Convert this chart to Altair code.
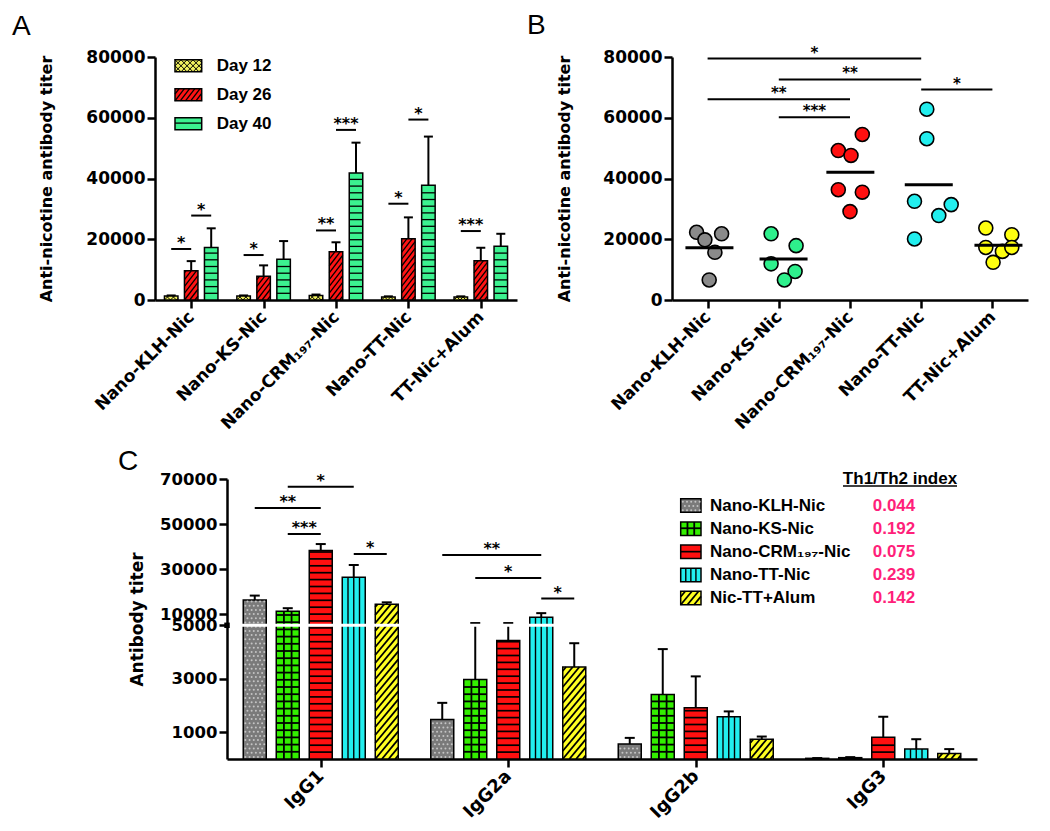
import json
import math
import altair as alt
import pandas as pd

# ------------------------------------------------------------------ data
groups = ["Nano-KLH-Nic", "Nano-KS-Nic", "Nano-CRM₁₉₇-Nic", "Nano-TT-Nic", "TT-Nic+Alum"]
days = ["Day 12", "Day 26", "Day 40"]

day12 = [1300, 1300, 1500, 1000, 1000]
day12_sem = [200, 200, 300, 200, 200]
day26 = [9600, 7800, 15900, 20200, 12900]
day26_sem = [3200, 3600, 3100, 7000, 4300]
day40 = [17300, 13400, 41800, 37800, 17700]
day40_sem = [6300, 6000, 10000, 16000, 4100]

a_sig_group = [0, 0, 1, 2, 2, 3, 3, 4]
a_sig_from = [0, 1, 0, 0, 1, 0, 1, 0]
a_sig_to = [1, 2, 1, 1, 2, 1, 2, 1]
a_sig_y = [16800, 27800, 14800, 22900, 56000, 31700, 59400, 22700]
a_sig_label = ["*", "*", "*", "**", "***", "*", "*", "***"]

b_klh = [22300, 19800, 21800, 15700, 6600]
b_ks = [21800, 17900, 11900, 9400, 6600]
b_crm = [49200, 47600, 54500, 36300, 35500, 29100]
b_tt = [62800, 53100, 32500, 31400, 27800, 20100]
b_alum = [23700, 21500, 17300, 16000, 17300, 12400]
# horizontal scatter of the dots (pixels from the group centre)
b_klh_jit = [-11, -2.7, 14, 7.3, 1.6]
b_ks_jit = [-7.7, 17.3, -7.7, 16.3, 5.6]
b_crm_jit = [-11.7, 1, 12.3, -11.7, 12.3, 0]
b_tt_jit = [5.6, 5.6, -6.7, 30, 17.6, -6.7]
b_alum_jit = [-6.6, 19.4, -6.6, 10, 19.4, 0.7]

b_sig_from = [0, 1, 3, 0, 1]
b_sig_to = [3, 3, 4, 2, 2]
b_sig_y = [79500, 72600, 69300, 66100, 60200]
b_sig_label = ["*", "**", "*", "**", "***"]

isotypes = ["IgG1", "IgG2a", "IgG2b", "IgG3"]
c_groups = ["Nano-KLH-Nic", "Nano-KS-Nic", "Nano-CRM₁₉₇-Nic", "Nano-TT-Nic", "Nic-TT+Alum"]
c_klh = [16200, 1480, 560, 25]
c_klh_sem = [2000, 620, 230, 10]
c_ks = [11200, 2970, 2410, 50]
c_ks_sem = [1400, 3030, 1700, 20]
c_crm = [38200, 4430, 1920, 810]
c_crm_sem = [2900, 1570, 1170, 770]
c_tt = [26300, 8600, 1580, 370]
c_tt_sem = [5500, 1800, 200, 370]
c_alum = [14300, 3440, 740, 210]
c_alum_sem = [900, 890, 100, 160]
th_index = ["0.044", "0.192", "0.075", "0.239", "0.142"]

c_sig_iso = [0, 0, 0, 0, 1, 1, 1]
c_sig_from = [0, 1, 1, 3, 0, 1, 3]
c_sig_to = [2, 3, 2, 4, 3, 3, 4]
c_sig_y = [57100, 66600, 45600, 36700, 36200, 26000, 16900]
c_sig_label = ["**", "*", "***", "*", "**", "*", "*"]

# ------------------------------------------------------------------ style
A_COLORS = ["#f0f060", "#ff1414", "#3cf290"]
A_PATTERNS = ["cross", "diagA", "hA"]
B_COLORS = ["#8a8a8a", "#2ef08c", "#ff1010", "#22eeee", "#ffff10"]
C_COLORS = ["#7a7a7a", "#33ee00", "#ff1010", "#22eeee", "#ffff22"]
C_PATTERNS = ["dots", "grid", "hC", "vC", "diagC"]
PINK = "#ff1f7a"
AXF = "DejaVu Sans"
LGF = "Liberation Sans"

WA, HA = 362, 243
WB, HB = 356, 243
WC, HC = 750, 280
C_BREAK = 133.7           # pixel height of the 0-5000 segment in C
BW_A, STEP_A, CAP_A = 13.5, 20.0, 9.0
BW_C, STEP_C, CAP_C = 23.0, 33.0, 10.0
PAT_W = {"cross": 1.0, "diagA": 1.3, "hA": 1.3, "grid": 1.8, "hC": 1.7,
         "vC": 1.4, "diagC": 1.8}


def a_xu(px):
    return px * 5.0 / WA


def a_yv(px):
    return px * 80000.0 / HA


def b_xu(px):
    return px * 5.0 / WB


def c_xu(px):
    return px * 4.0 / WC


def c_ypx(v):
    if v <= 5000:
        return v * C_BREAK / 5000.0
    return C_BREAK + (v - 5000.0) * (HC - C_BREAK) / 65000.0


def c_yv(px):
    if px <= C_BREAK:
        return px * 5000.0 / C_BREAK
    return 5000.0 + (px - C_BREAK) * 65000.0 / (HC - C_BREAK)


# ---------------------------------------------------------- pattern helpers
def seg_h(w, h, sp):
    out, y = [], sp
    while y < h - 1.0:
        out.append((0.0, y, w, y))
        y += sp
    return out


def seg_v(w, h, n):
    return [(w * k / (n + 1), 0.0, w * k / (n + 1), h) for k in range(1, n + 1)]


def seg_diag(w, h, sp, m):
    out = []
    kmin = math.floor(-abs(m) * w / sp) - 1
    kmax = math.ceil((h + abs(m) * w) / sp) + 1
    for k in range(kmin, kmax + 1):
        c = k * sp
        if m > 0:
            lo, hi = max(0.0, -c / m), min(w, (h - c) / m)
        else:
            lo, hi = max(0.0, (h - c) / m), min(w, -c / m)
        if hi - lo > 0.4:
            out.append((lo, m * lo + c, hi, m * hi + c))
    return out


def make_pattern(kind, w, h):
    segs, dots = [], []
    if kind == "cross":
        segs = seg_diag(w, h, 6.0, 1.0) + seg_diag(w, h, 6.0, -1.0)
    elif kind == "diagA":
        segs = seg_diag(w, h, 6.8, 1.3)
    elif kind == "hA":
        segs = seg_h(w, h, 6.7)
    elif kind == "grid":
        segs = seg_h(w, h, 7.2) + seg_v(w, h, 2)
    elif kind == "hC":
        segs = seg_h(w, h, 6.9)
    elif kind == "vC":
        segs = seg_v(w, h, 3)
    elif kind == "diagC":
        segs = seg_diag(w, h, 8.0, 1.2)
    elif kind == "dots":
        sp, j, y = 4.2, 0, 2.1
        while y < h - 1.0:
            x = 2.1 if j % 2 == 0 else 4.2
            while x < w - 1.0:
                dots.append((x, y))
                x += sp
            y += sp
            j += 1
    return segs, dots


# ------------------------------------------------------------------ panel A
a_vals = [day12, day26, day40]
a_sems = [day12_sem, day26_sem, day40_sem]
a_rows, a_pat = [], []
for s, day in enumerate(days):
    for g in range(len(groups)):
        v, e = a_vals[s][g], a_sems[s][g]
        cpx = (g + 0.5) * WA / 5 + (s - 1) * STEP_A
        a_rows.append(dict(day=day, col=A_COLORS[s], x0=a_xu(cpx - BW_A / 2),
                           x1=a_xu(cpx + BW_A / 2), xc=a_xu(cpx), c0=a_xu(cpx - CAP_A / 2),
                           c1=a_xu(cpx + CAP_A / 2), b=0, v=v, top=v + e))
        segs, _ = make_pattern(A_PATTERNS[s], BW_A, v * HA / 80000.0)
        xl = cpx - BW_A / 2
        for (x1, y1, x2, y2) in segs:
            a_pat.append(dict(xa=a_xu(xl + x1), ya=a_yv(y1), xb=a_xu(xl + x2), yb=a_yv(y2),
                              sw=PAT_W[A_PATTERNS[s]]))
a_df = pd.DataFrame(a_rows)
a_pat_df = pd.DataFrame(a_pat)

a_sig = []
for g, f, t, y, lab in zip(a_sig_group, a_sig_from, a_sig_to, a_sig_y, a_sig_label):
    p1 = (g + 0.5) * WA / 5 + (f - 1) * STEP_A
    p2 = (g + 0.5) * WA / 5 + (t - 1) * STEP_A
    a_sig.append(dict(x1=a_xu(p1), x2=a_xu(p2), xm=a_xu((p1 + p2) / 2), y=y, label=lab))
a_sig_df = pd.DataFrame(a_sig)

# legend of A (pixel space)
A_LEG_X, A_LEG_W, A_LEG_H, A_LEG_Y0, A_LEG_DY = 20.0, 26.7, 12.0, 8.8, 29.0
a_leg, a_leg_pat = [], []
for i, day in enumerate(days):
    yc = A_LEG_Y0 + i * A_LEG_DY
    a_leg.append(dict(day=day, col=A_COLORS[i], x0=A_LEG_X, x1=A_LEG_X + A_LEG_W,
                      y0=yc - A_LEG_H / 2, y1=yc + A_LEG_H / 2, tx=A_LEG_X + A_LEG_W + 15,
                      ty=yc))
    segs, _ = make_pattern(A_PATTERNS[i], A_LEG_W, A_LEG_H)
    for (x1, y1, x2, y2) in segs:
        a_leg_pat.append(dict(xa=A_LEG_X + x1, ya=yc + A_LEG_H / 2 - y1,
                              xb=A_LEG_X + x2, yb=yc + A_LEG_H / 2 - y2, sw=PAT_W[A_PATTERNS[i]]))
a_leg_df = pd.DataFrame(a_leg)
a_leg_pat_df = pd.DataFrame(a_leg_pat)


def group_axis(names, size):
    return alt.Axis(values=[k + 0.5 for k in range(len(names))],
                    labelExpr=json.dumps(names) + "[floor(datum.value)]",
                    labelAngle=-45, labelAlign="right", labelBaseline="middle",
                    labelOverlap=False, labelFont=AXF, labelFontSize=size,
                    labelFontWeight="bold", labelPadding=6, title=None, tickSize=8, grid=False)


def titer_axis(title, pad):
    return alt.Axis(values=[0, 20000, 40000, 60000, 80000], format="d", title=title,
                    titleFont=AXF, titleFontSize=16, titleFontWeight="bold", titlePadding=pad,
                    labelFont=AXF, labelFontSize=17, labelFontWeight="bold", tickSize=8,
                    labelPadding=2, grid=False)


xA = alt.Scale(domain=[0, 5], nice=False, zero=False)
yA = alt.Scale(domain=[0, 80000], nice=False)

a_bars = alt.Chart(a_df).mark_rect(stroke="black", strokeWidth=1.5).encode(
    x=alt.X("x0:Q", scale=xA, axis=group_axis(groups, 17)), x2="x1:Q",
    y=alt.Y("b:Q", scale=yA, axis=titer_axis("Anti-nicotine antibody titer", 31)), y2="v:Q",
    fill=alt.Fill("col:N", scale=None))
a_patt = alt.Chart(a_pat_df).mark_rule(color="black").encode(
    x="xa:Q", x2="xb:Q", y="ya:Q", y2="yb:Q", strokeWidth=alt.StrokeWidth("sw:Q", scale=None))
a_err = alt.Chart(a_df).mark_rule(color="black", strokeWidth=2).encode(
    x="xc:Q", y="v:Q", y2="top:Q")
a_cap = alt.Chart(a_df).mark_rule(color="black", strokeWidth=2).encode(
    x="c0:Q", x2="c1:Q", y="top:Q")
a_sl = alt.Chart(a_sig_df).mark_rule(color="black", strokeWidth=2).encode(
    x="x1:Q", x2="x2:Q", y="y:Q")
a_st = alt.Chart(a_sig_df).mark_text(font=AXF, fontSize=16, fontWeight="bold",
                                     baseline="alphabetic", dy=-1).encode(
    x="xm:Q", y="y:Q", text="label:N")
a_lr = alt.Chart(a_leg_df).mark_rect(stroke="black", strokeWidth=1.5).encode(
    x=alt.X("x0:Q", scale=None, axis=None), x2="x1:Q",
    y=alt.Y("y0:Q", scale=None, axis=None), y2="y1:Q",
    fill=alt.Fill("col:N", scale=None))
a_lp = alt.Chart(a_leg_pat_df).mark_rule(color="black").encode(
    x=alt.X("xa:Q", scale=None, axis=None), x2="xb:Q",
    y=alt.Y("ya:Q", scale=None, axis=None), y2="yb:Q",
    strokeWidth=alt.StrokeWidth("sw:Q", scale=None))
a_lt = alt.Chart(a_leg_df).mark_text(font=LGF, fontSize=17, fontWeight="bold", align="left",
                                     baseline="middle").encode(
    x=alt.X("tx:Q", scale=None, axis=None), y=alt.Y("ty:Q", scale=None, axis=None),
    text="day:N")
a_letter = alt.Chart(pd.DataFrame({"t": ["A"]})).mark_text(
    font=LGF, fontSize=28, align="left", baseline="alphabetic").encode(
    text="t:N", x=alt.value(-143), y=alt.value(-21.7))

panelA = alt.layer(a_err, a_cap, a_bars, a_patt, a_sl, a_st, a_lr, a_lp, a_lt, a_letter
                   ).properties(width=WA, height=HA)

# ------------------------------------------------------------------ panel B
b_vals = [b_klh, b_ks, b_crm, b_tt, b_alum]
b_jits = [b_klh_jit, b_ks_jit, b_crm_jit, b_tt_jit, b_alum_jit]
b_pts, b_mean = [], []
for g, (vals, jits) in enumerate(zip(b_vals, b_jits)):
    for v, j in zip(vals, jits):
        b_pts.append(dict(group=groups[g], col=B_COLORS[g], x=g + 0.5 + b_xu(j), v=v))
    mv = sum(vals) / len(vals)
    mj = sum(jits) / len(jits)
    b_mean.append(dict(x1=g + 0.5 + b_xu(mj - 24), x2=g + 0.5 + b_xu(mj + 24), v=mv))
b_pts_df = pd.DataFrame(b_pts)
b_mean_df = pd.DataFrame(b_mean)
b_sig_df = pd.DataFrame([dict(x1=f + 0.5, x2=t + 0.5, xm=(f + t) / 2 + 0.5, y=y, label=l)
                         for f, t, y, l in zip(b_sig_from, b_sig_to, b_sig_y, b_sig_label)])

xB = alt.Scale(domain=[0, 5], nice=False, zero=False)
yB = alt.Scale(domain=[0, 80000], nice=False)

b_points = alt.Chart(b_pts_df).mark_circle(size=195, stroke="black", strokeWidth=1.6,
                                           opacity=1).encode(
    x=alt.X("x:Q", scale=xB, axis=group_axis(groups, 17)),
    y=alt.Y("v:Q", scale=yB, axis=titer_axis("Anti-nicotine antibody titer", 30)),
    fill=alt.Fill("col:N", scale=None))
b_m = alt.Chart(b_mean_df).mark_rule(color="black", strokeWidth=3).encode(
    x="x1:Q", x2="x2:Q", y="v:Q")
b_sl = alt.Chart(b_sig_df).mark_rule(color="black", strokeWidth=2).encode(
    x="x1:Q", x2="x2:Q", y="y:Q")
b_st = alt.Chart(b_sig_df).mark_text(font=AXF, fontSize=15, fontWeight="bold",
                                     baseline="alphabetic", dy=-1).encode(
    x="xm:Q", y="y:Q", text="label:N")
b_letter = alt.Chart(pd.DataFrame({"t": ["B"]})).mark_text(
    font=LGF, fontSize=28, align="left", baseline="alphabetic").encode(
    text="t:N", x=alt.value(-145), y=alt.value(-23.4))
panelB = alt.layer(b_points, b_m, b_sl, b_st, b_letter).properties(width=WB, height=HB)

# ------------------------------------------------------------------ panel C
c_vals = [c_klh, c_ks, c_crm, c_tt, c_alum]
c_sems = [c_klh_sem, c_ks_sem, c_crm_sem, c_tt_sem, c_alum_sem]
c_rows, c_pat, c_dots = [], [], []
for s in range(5):
    for g in range(4):
        v, e = c_vals[s][g], c_sems[s][g]
        cpx = (g + 0.5) * WC / 4 + (s - 2) * STEP_C
        c_rows.append(dict(grp=c_groups[s], col=C_COLORS[s], x0=c_xu(cpx - BW_C / 2),
                           x1=c_xu(cpx + BW_C / 2), xc=c_xu(cpx), c0=c_xu(cpx - CAP_C / 2),
                           c1=c_xu(cpx + CAP_C / 2), b=0, v=v, top=v + e))
        segs, dots = make_pattern(C_PATTERNS[s], BW_C, c_ypx(v))
        xl = cpx - BW_C / 2
        for (x1, y1, x2, y2) in segs:
            c_pat.append(dict(xa=c_xu(xl + x1), ya=c_yv(y1), xb=c_xu(xl + x2), yb=c_yv(y2),
                              sw=PAT_W[C_PATTERNS[s]]))
        for (dx, dy) in dots:
            c_dots.append(dict(x=c_xu(xl + dx), y=c_yv(dy)))
c_df = pd.DataFrame(c_rows)
c_pat_df = pd.DataFrame(c_pat)
c_dots_df = pd.DataFrame(c_dots)

c_sig = []
for g, f, t, y, lab in zip(c_sig_iso, c_sig_from, c_sig_to, c_sig_y, c_sig_label):
    p1 = (g + 0.5) * WC / 4 + (f - 2) * STEP_C
    p2 = (g + 0.5) * WC / 4 + (t - 2) * STEP_C
    c_sig.append(dict(x1=c_xu(p1), x2=c_xu(p2), xm=c_xu((p1 + p2) / 2), y=y, label=lab))
c_sig_df = pd.DataFrame(c_sig)
c_break_df = pd.DataFrame({"x1": [c_xu(2.5)], "x2": [4.0], "y": [5000], "x0": [0.0]})

# legend of C (pixel space)
C_LEG_X, C_LEG_W, C_LEG_H, C_LEG_Y0, C_LEG_DY = 453.7, 20.3, 13.5, 26.6, 23.1
c_leg, c_leg_pat, c_leg_dots = [], [], []
for i, name in enumerate(c_groups):
    yc = C_LEG_Y0 + i * C_LEG_DY
    c_leg.append(dict(grp=name, col=C_COLORS[i], idx=th_index[i], x0=C_LEG_X,
                      x1=C_LEG_X + C_LEG_W, y0=yc - C_LEG_H / 2, y1=yc + C_LEG_H / 2,
                      tx=C_LEG_X + C_LEG_W + 9, vx=667.0, ty=yc))
    segs, dots = make_pattern(C_PATTERNS[i], C_LEG_W, C_LEG_H)
    for (x1, y1, x2, y2) in segs:
        c_leg_pat.append(dict(xa=C_LEG_X + x1, ya=yc + C_LEG_H / 2 - y1,
                              xb=C_LEG_X + x2, yb=yc + C_LEG_H / 2 - y2,
                              sw=PAT_W[C_PATTERNS[i]]))
    for (dx, dy) in dots:
        c_leg_dots.append(dict(x=C_LEG_X + dx, y=yc + C_LEG_H / 2 - dy))
c_leg_df = pd.DataFrame(c_leg)
c_leg_pat_df = pd.DataFrame(c_leg_pat)
c_leg_dots_df = pd.DataFrame(c_leg_dots)
c_head_df = pd.DataFrame({"t": ["Th1/Th2 index"], "x": [673.0], "y": [5.0],
                          "u1": [616.0], "u2": [730.0], "uy": [7.0]})

ax_y_C = alt.Axis(values=[1000, 3000, 5000, 10000, 30000, 50000, 70000], format="d",
                  labelOverlap=False, title="Antibody titer", titleFont=AXF, titleFontSize=17,
                  titleFontWeight="bold", titlePadding=13, labelFont=AXF, labelFontSize=16.5,
                  labelFontWeight="bold", tickSize=8, labelPadding=2, grid=False)
xC = alt.Scale(domain=[0, 4], nice=False, zero=False)
yC = alt.Scale(domain=[0, 5000, 70000], range=[HC, HC - C_BREAK, 0], nice=False)

c_bars = alt.Chart(c_df).mark_rect(stroke="black", strokeWidth=1.5).encode(
    x=alt.X("x0:Q", scale=xC, axis=group_axis(isotypes, 18)), x2="x1:Q",
    y=alt.Y("b:Q", scale=yC, axis=ax_y_C), y2="v:Q",
    fill=alt.Fill("col:N", scale=None))
c_patt = alt.Chart(c_pat_df).mark_rule(color="black").encode(
    x="xa:Q", x2="xb:Q", y="ya:Q", y2="yb:Q", strokeWidth=alt.StrokeWidth("sw:Q", scale=None))
c_dot = alt.Chart(c_dots_df).mark_circle(size=4, color="#c4c4c4", opacity=1).encode(
    x="x:Q", y="y:Q")
c_err = alt.Chart(c_df).mark_rule(color="black", strokeWidth=2).encode(
    x="xc:Q", y="v:Q", y2="top:Q")
c_cap = alt.Chart(c_df).mark_rule(color="black", strokeWidth=2).encode(
    x="c0:Q", x2="c1:Q", y="top:Q")
c_brk = alt.Chart(c_break_df).mark_rule(color="white", strokeWidth=3).encode(
    x="x1:Q", x2="x2:Q", y="y:Q")
c_brk_mark = alt.Chart(c_break_df).mark_square(size=30, color="black", opacity=1).encode(
    x="x0:Q", y="y:Q")
c_sl = alt.Chart(c_sig_df).mark_rule(color="black", strokeWidth=2).encode(
    x="x1:Q", x2="x2:Q", y="y:Q")
c_st = alt.Chart(c_sig_df).mark_text(font=AXF, fontSize=16, fontWeight="bold",
                                     baseline="alphabetic", dy=-1).encode(
    x="xm:Q", y="y:Q", text="label:N")
c_lr = alt.Chart(c_leg_df).mark_rect(stroke="black", strokeWidth=1.5).encode(
    x=alt.X("x0:Q", scale=None, axis=None), x2="x1:Q",
    y=alt.Y("y0:Q", scale=None, axis=None), y2="y1:Q",
    fill=alt.Fill("col:N", scale=None))
c_lp = alt.Chart(c_leg_pat_df).mark_rule(color="black").encode(
    x=alt.X("xa:Q", scale=None, axis=None), x2="xb:Q",
    y=alt.Y("ya:Q", scale=None, axis=None), y2="yb:Q",
    strokeWidth=alt.StrokeWidth("sw:Q", scale=None))
c_ld = alt.Chart(c_leg_dots_df).mark_circle(size=4, color="#c4c4c4", opacity=1).encode(
    x=alt.X("x:Q", scale=None, axis=None), y=alt.Y("y:Q", scale=None, axis=None))
c_lt = alt.Chart(c_leg_df).mark_text(font=LGF, fontSize=17, fontWeight="bold", align="left",
                                     baseline="middle").encode(
    x=alt.X("tx:Q", scale=None, axis=None), y=alt.Y("ty:Q", scale=None, axis=None),
    text="grp:N")
c_lv = alt.Chart(c_leg_df).mark_text(font=LGF, fontSize=17, fontWeight="bold", align="center",
                                     baseline="middle", color=PINK).encode(
    x=alt.X("vx:Q", scale=None, axis=None), y=alt.Y("ty:Q", scale=None, axis=None),
    text="idx:N")
c_ht = alt.Chart(c_head_df).mark_text(font=LGF, fontSize=17, fontWeight="bold",
                                      align="center", baseline="alphabetic").encode(
    x=alt.X("x:Q", scale=None, axis=None), y=alt.Y("y:Q", scale=None, axis=None), text="t:N")
c_hu = alt.Chart(c_head_df).mark_rule(color="black", strokeWidth=1.5).encode(
    x=alt.X("u1:Q", scale=None, axis=None), x2="u2:Q",
    y=alt.Y("uy:Q", scale=None, axis=None))
c_letter = alt.Chart(pd.DataFrame({"t": ["C"]})).mark_text(
    font=LGF, fontSize=28, align="left", baseline="alphabetic").encode(
    text="t:N", x=alt.value(-109), y=alt.value(-8.7))

panelC = alt.layer(c_err, c_cap, c_bars, c_patt, c_dot, c_brk, c_brk_mark, c_sl, c_st,
                   c_lr, c_lp, c_ld, c_lt, c_lv, c_ht, c_hu, c_letter
                   ).properties(width=WC, height=HC)

spacer = alt.Chart(pd.DataFrame({"s": [0]})).mark_point(opacity=0).encode(
    x=alt.X("s:Q", axis=None), y=alt.Y("s:Q", axis=None)).properties(width=1, height=1)

top = alt.hconcat(panelA, panelB, spacing=155, bounds="flush")
bottom = alt.hconcat(spacer, panelC, spacing=71, bounds="flush")
chart = alt.vconcat(top, bottom, spacing=422, bounds="flush").properties(
    padding={"left": 4, "top": 3, "right": 5, "bottom": 5}
).configure_view(stroke=None).configure_axis(
    domainColor="black", tickColor="black", labelColor="black", titleColor="black",
    domainWidth=2.5, tickWidth=2.5, grid=False)

chart.save("out.html", embed_options={"renderer": "svg", "actions": False})
